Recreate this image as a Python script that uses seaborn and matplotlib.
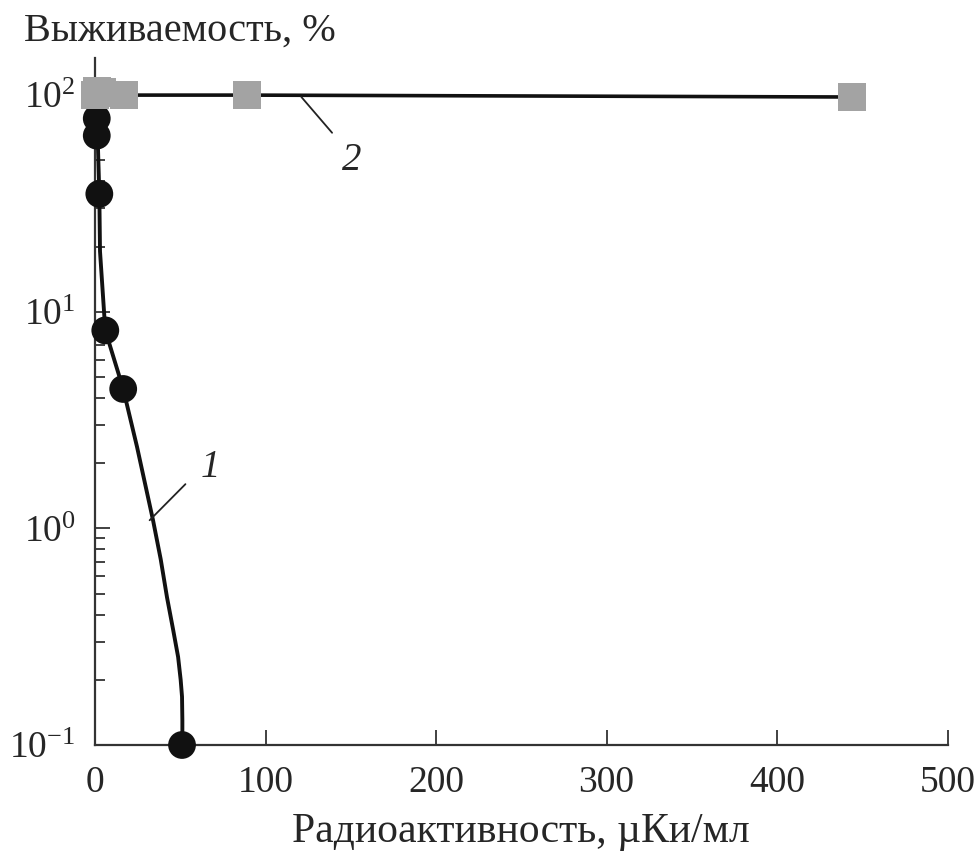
import numpy as np
import pandas as pd
import matplotlib
matplotlib.use('Agg')
import matplotlib.pyplot as plt
from matplotlib.ticker import LogLocator, NullFormatter, FixedLocator
import seaborn as sns

# ------------------------------------------ DATA ------------------------------------------------------------#
# curve 1 (circles): survival vs radioactivity
c1_x = [1, 1, 2.5, 6, 16.5, 51]
c1_y = [78, 65, 35, 8.2, 4.4, 0.1]
# smooth fitted line 1
l1_x = [0, 1, 1.5, 2.5, 2.9, 6, 16.5, 24.6, 34, 38.5, 42.2, 45.8, 48.7, 50.2, 51, 51.2, 51.2]
l1_y = [100, 78, 65, 35, 19, 8.2, 4.4, 2.38, 1.09, 0.72, 0.48, 0.34, 0.255, 0.2, 0.167, 0.13, 0.1]
# curve 2 (squares)
c2_x = [0, 1, 4, 17, 89, 444]
c2_y = [100, 104, 103, 100, 100, 98]

x_ticks = [0, 100, 200, 300, 400, 500]
y_ticks = [0.1, 1, 10, 100]
y_tick_labels = [r'$10^{-1}$', r'$10^{0}$', r'$10^{1}$', r'$10^{2}$']

# ------------------------------------------ STYLE -----------------------------------------------------------#
sns.set_style('ticks')
plt.rcParams['font.family'] = ['Liberation Serif', 'DejaVu Serif']
plt.rcParams['mathtext.fontset'] = 'custom'
plt.rcParams['mathtext.rm'] = 'Liberation Serif'
plt.rcParams['mathtext.it'] = 'Liberation Serif:italic'

fig = plt.figure(figsize=(9.8, 8.52), dpi=100)
ax = fig.add_axes([0.097, 0.1256, 0.870, 0.806])

df1 = pd.DataFrame({'x': l1_x, 'y': l1_y})
df2 = pd.DataFrame({'x': c2_x, 'y': c2_y})
sns.lineplot(data=df1, x='x', y='y', sort=False, estimator=None, color='#111111',
             linewidth=2.8, ax=ax, zorder=2)
sns.scatterplot(x=c1_x, y=c1_y, marker='o', s=400, color='#111111', edgecolor='none',
                ax=ax, zorder=3, clip_on=False)
sns.lineplot(data=df2, x='x', y='y', sort=False, estimator=None, color='#111111',
             linewidth=2.6, ax=ax, zorder=4)
sns.scatterplot(x=c2_x, y=c2_y, marker='s', s=420, color='#a3a3a3', edgecolor='none',
                ax=ax, zorder=5, clip_on=False)

ax.set_yscale('log')
ax.set_xlim(0, 500)
ax.set_ylim(0.1, 10 ** 2.17)
ax.xaxis.set_major_locator(FixedLocator(x_ticks))
ax.set_xticklabels([str(t) for t in x_ticks])
ax.yaxis.set_major_locator(FixedLocator(y_ticks))
ax.set_yticklabels(y_tick_labels)
ax.yaxis.set_minor_locator(LogLocator(base=10, subs=np.arange(2, 10)))
ax.yaxis.set_minor_formatter(NullFormatter())

ax.tick_params(axis='both', which='major', direction='in', length=11, width=1.3,
               labelsize=27, color='#333333')
ax.tick_params(axis='x', which='major', pad=15)
ax.tick_params(axis='y', which='major', pad=14)
ax.tick_params(axis='y', which='minor', direction='in', length=7, width=1.3, color='#333333')
for s in ['top', 'right']:
    ax.spines[s].set_visible(False)
for s in ['left', 'bottom']:
    ax.spines[s].set_linewidth(1.6)
    ax.spines[s].set_color('#333333')

ax.set_xlabel('Радиоактивность, µКи/мл', fontsize=30, labelpad=9)
ax.set_ylabel('')
fig.text(0.024, 0.964, 'Выживаемость, %', fontsize=29, ha='left', va='center')

# curve labels with leader lines
ax.plot([121, 139], [98, 67], color='#222222', linewidth=1.3, zorder=6)
ax.text(145, 50, '2', fontsize=28, style='italic', ha='left', va='center')
ax.plot([32, 53], [1.09, 1.6], color='#222222', linewidth=1.3, zorder=6)
ax.text(62, 1.9, '1', fontsize=28, style='italic', ha='left', va='center')

plt.savefig('out.png', dpi=100)
